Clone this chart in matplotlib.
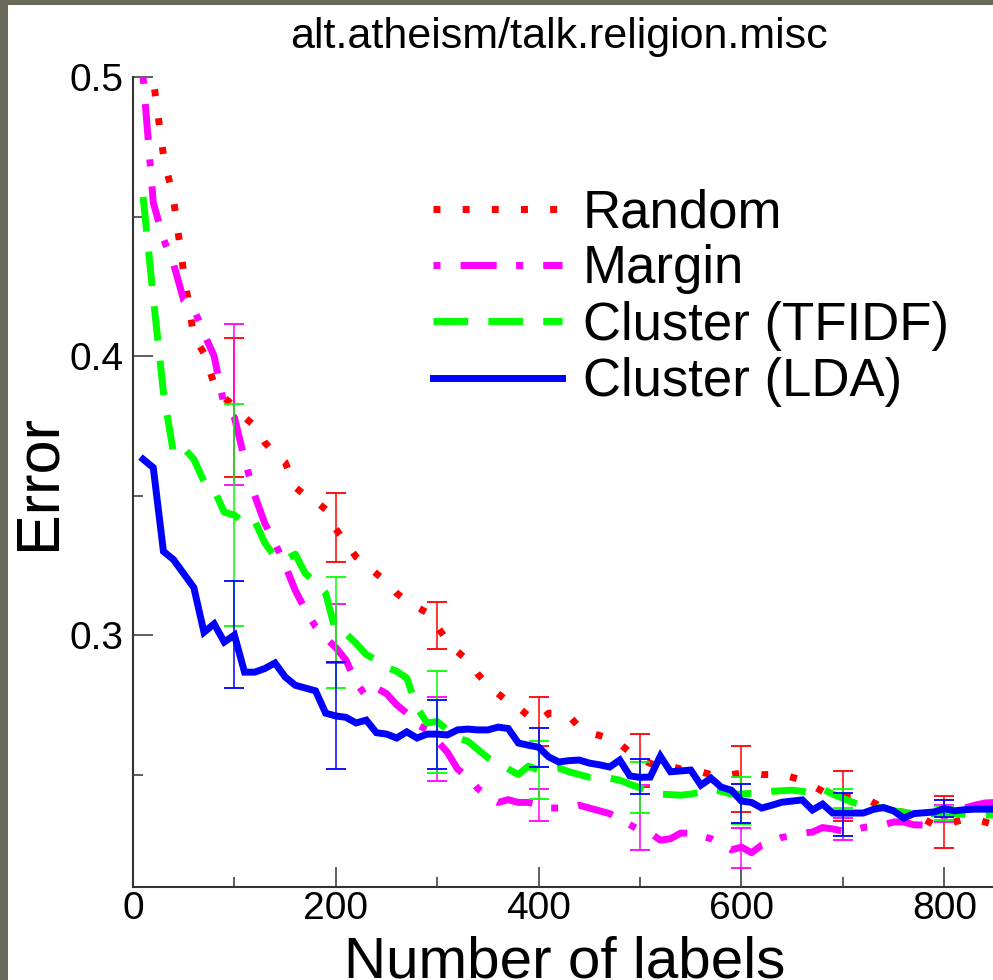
import numpy as np
import matplotlib
matplotlib.use("Agg")
from matplotlib import pyplot as plt
from matplotlib.patches import Rectangle

plt.rcParams['font.family'] = ['Liberation Sans', 'DejaVu Sans']

# Number of labels (x) for every curve
labels = np.arange(10, 860, 10)

# Error per method
random_err = [0.505, 0.499, 0.472, 0.456, 0.430, 0.407, 0.401, 0.390, 0.385, 0.382,
              0.378, 0.375, 0.369, 0.365, 0.362, 0.353, 0.350, 0.348, 0.345, 0.338,
              0.333, 0.328, 0.325, 0.322, 0.319, 0.315, 0.312, 0.310, 0.308, 0.303,
              0.298, 0.294, 0.291, 0.286, 0.282, 0.279, 0.276, 0.274, 0.271, 0.269,
              0.272, 0.272, 0.271, 0.267, 0.265, 0.264, 0.263, 0.261, 0.258, 0.256,
              0.254, 0.253, 0.253, 0.252, 0.252, 0.251, 0.250, 0.250, 0.250, 0.2505,
              0.2505, 0.250, 0.250, 0.250, 0.249, 0.248, 0.246, 0.244, 0.242, 0.242,
              0.242, 0.242, 0.240, 0.238, 0.237, 0.2365, 0.236, 0.234, 0.232, 0.232,
              0.233, 0.234, 0.234, 0.233, 0.232]
margin_err = [0.500, 0.455, 0.442, 0.433, 0.420, 0.417, 0.408, 0.400, 0.382, 0.378,
              0.363, 0.350, 0.340, 0.333, 0.325, 0.316, 0.309, 0.303, 0.299, 0.2955,
              0.291, 0.283, 0.278, 0.281, 0.279, 0.275, 0.272, 0.268, 0.266, 0.262,
              0.258, 0.252, 0.249, 0.245, 0.242, 0.240, 0.241, 0.240, 0.240, 0.239,
              0.238, 0.238, 0.238, 0.239, 0.238, 0.237, 0.236, 0.234, 0.232, 0.230,
              0.229, 0.2265, 0.227, 0.229, 0.229, 0.228, 0.227, 0.225, 0.223, 0.224,
              0.222, 0.2247, 0.226, 0.2275, 0.228, 0.229, 0.2294, 0.231, 0.2305, 0.2298,
              0.230, 0.231, 0.2315, 0.232, 0.233, 0.233, 0.232, 0.2319, 0.233, 0.235,
              0.237, 0.238, 0.239, 0.2398, 0.240]
tfidf_err = [0.457, 0.421, 0.387, 0.365, 0.367, 0.363, 0.355, 0.352, 0.344, 0.343,
             0.340, 0.341, 0.333, 0.328, 0.327, 0.329, 0.322, 0.319, 0.315, 0.301,
             0.3005, 0.297, 0.293, 0.291, 0.2885, 0.287, 0.2846, 0.274, 0.2685, 0.269,
             0.266, 0.263, 0.262, 0.259, 0.256, 0.254, 0.252, 0.250, 0.253, 0.2516,
             0.252, 0.2523, 0.251, 0.250, 0.249, 0.2487, 0.2487, 0.248, 0.2465, 0.2453,
             0.244, 0.243, 0.2428, 0.2426, 0.243, 0.2437, 0.2448, 0.244, 0.243, 0.243,
             0.2433, 0.2437, 0.244, 0.2442, 0.2444, 0.244, 0.2434, 0.2448, 0.243, 0.2415,
             0.240, 0.239, 0.2385, 0.238, 0.237, 0.2365, 0.236, 0.236, 0.236, 0.236,
             0.236, 0.2358, 0.2356, 0.2355, 0.2355]
lda_err = [0.363, 0.360, 0.330, 0.327, 0.322, 0.317, 0.301, 0.304, 0.2975, 0.300,
           0.2867, 0.2867, 0.288, 0.290, 0.285, 0.282, 0.281, 0.280, 0.272, 0.271,
           0.2705, 0.2685, 0.2695, 0.265, 0.2645, 0.2631, 0.2653, 0.2631, 0.2645, 0.2645,
           0.2642, 0.266, 0.2663, 0.266, 0.266, 0.267, 0.2665, 0.2613, 0.2605, 0.2598,
           0.2563, 0.2545, 0.255, 0.2552, 0.2541, 0.2535, 0.2527, 0.2552, 0.2495, 0.249,
           0.2491, 0.2566, 0.251, 0.2513, 0.2516, 0.2462, 0.2487, 0.2455, 0.2444, 0.2405,
           0.240, 0.238, 0.239, 0.2401, 0.2405, 0.2409, 0.2373, 0.2394, 0.2362, 0.2362,
           0.2362, 0.2362, 0.2375, 0.2382, 0.237, 0.2344, 0.236, 0.2363, 0.2366, 0.2378,
           0.237, 0.2374, 0.2376, 0.2376, 0.2376]

# Error bar ends at every 100 labels
bar_x = [100, 200, 300, 400, 500, 600, 700, 800]
random_lo = [0.3567, 0.3261, 0.2950, 0.2602, 0.2456, 0.2367, 0.2335, 0.2236]
random_hi = [0.4066, 0.3508, 0.3118, 0.2778, 0.2645, 0.2602, 0.2513, 0.2423]
margin_lo = [0.3538, 0.2899, 0.2476, 0.2333, 0.2228, 0.2165, 0.2265, 0.2330]
margin_hi = [0.4114, 0.3112, 0.2779, 0.2447, 0.2462, 0.2310, 0.2344, 0.2390]
tfidf_lo = [0.3033, 0.2811, 0.2507, 0.2411, 0.2361, 0.2323, 0.2379, 0.2337]
tfidf_hi = [0.3827, 0.3209, 0.2872, 0.2620, 0.2546, 0.2492, 0.2450, 0.2387]
lda_lo = [0.2809, 0.2520, 0.2521, 0.2528, 0.2430, 0.2327, 0.2280, 0.2347]
lda_hi = [0.3192, 0.2902, 0.2766, 0.2668, 0.2554, 0.2465, 0.2435, 0.2409]

series = [
    ('Random', random_err, random_lo, random_hi, '#ff0000', (0, (1, 3.2))),
    ('Margin', margin_err, margin_lo, margin_hi, '#ff00ff', (0, (1, 2.9, 5.2, 2.8))),
    ('Cluster (TFIDF)', tfidf_err, tfidf_lo, tfidf_hi, '#00ff00', (0, (5, 2.9))),
    ('Cluster (LDA)', lda_err, lda_lo, lda_hi, '#0000ff', '-'),
]

W, H = 993, 980
fig = plt.figure(figsize=(W / 100, H / 100), dpi=100, facecolor='#6a6a5c')
# white page with a grey strip left and top
fig.patches.append(Rectangle((8 / W, 0), 1, 1 - 5 / H, transform=fig.transFigure,
                             facecolor='white', edgecolor='none', zorder=-10))

ax = fig.add_axes([133 / W, 93 / H, 864 / W, 810 / H])
ax.set_facecolor('none')

for name, y, lo, hi, col, ls in series:
    ax.plot(labels, y, color=col, lw=5, linestyle=ls, label=name,
            dash_capstyle='butt', solid_joinstyle='miter')
    lo, hi = np.array(lo), np.array(hi)
    ax.errorbar(bar_x, (lo + hi) / 2, yerr=(hi - lo) / 2, fmt='none',
                ecolor=col, elinewidth=1.1, capsize=7.5, capthick=1.3)

ax.set_xlim(0, 852)
ax.set_ylim(0.2097, 0.5)
ax.set_xticks([0, 200, 400, 600, 800])
ax.set_xticks([100, 300, 500, 700], minor=True)
ax.set_yticks([0.3, 0.4, 0.5])
ax.set_yticklabels(['0.3', '0.4', '0.5'])
ax.set_yticks([0.25, 0.35, 0.45], minor=True)

for s in ['top', 'right']:
    ax.spines[s].set_visible(False)
for s in ['left', 'bottom']:
    ax.spines[s].set_linewidth(1.5)
    ax.spines[s].set_color('#333333')
ax.tick_params(which='major', direction='in', length=14.5, width=1.1,
               color='#333333', labelsize=28)
ax.tick_params(which='minor', direction='in', length=7.5, width=1.1, color='#333333')
ax.tick_params(axis='y', pad=6.5)
ax.tick_params(axis='x', pad=3)

fig.text(559 / W, 1 - 48 / H, 'alt.atheism/talk.religion.misc', ha='center',
         va='baseline', fontsize=31)
fig.text(565 / W, 3 / H, 'Number of labels', ha='center', va='baseline', fontsize=42)
fig.text(39 / W, 1 - 482 / H, 'Error', rotation=90, ha='center', va='center', fontsize=44)

ax.legend(loc='upper left', bbox_to_anchor=(433 / W, 1 - 188 / H),
          bbox_transform=fig.transFigure, frameon=False, fontsize=38,
          handlelength=2.44, handletextpad=0.4, labelspacing=0.12,
          borderpad=0, borderaxespad=0)

fig.savefig('out.png', dpi=100, facecolor=fig.get_facecolor())
